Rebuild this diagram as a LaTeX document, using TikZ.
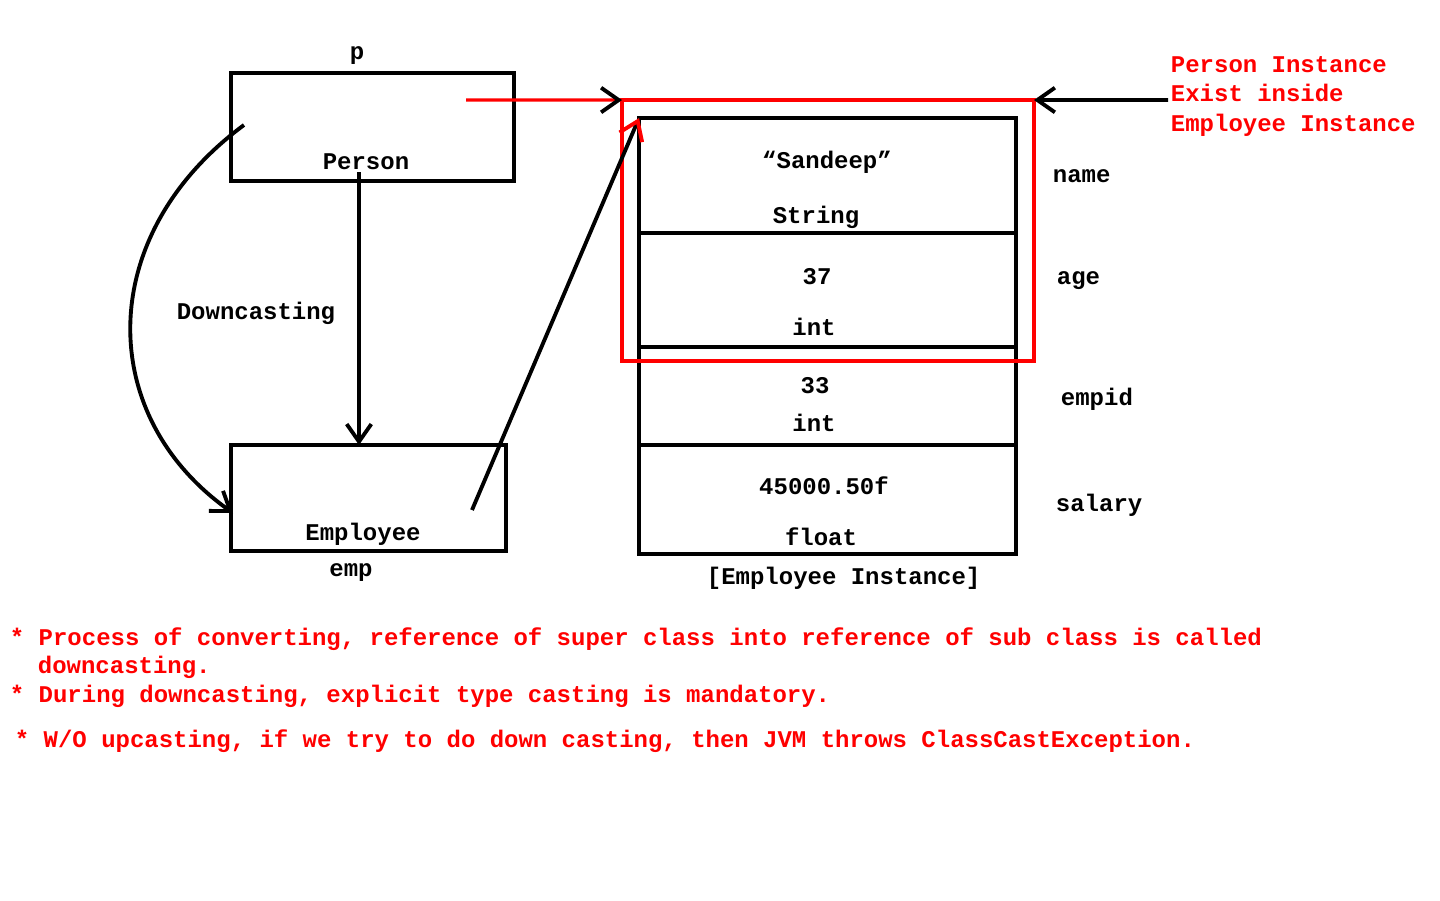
\documentclass[tikz,border=0pt]{standalone}
\usepackage{fontspec}
\setmainfont{Liberation Mono}
\usetikzlibrary{arrows.meta}

\begin{document}
\begin{tikzpicture}[x=0.02cm, y=-0.02cm, line width=2.2pt,
    >={Straight Barb[length=10pt,width=14pt]},
    txt/.style={inner sep=0pt, anchor=base, font=\fontsize{13.65}{16}\selectfont\bfseries},
    note/.style={txt, red, anchor=base west},
    box/.style={draw, inner sep=0pt, outer sep=0pt},
    field/.style={box, minimum width=7.54cm}]
    \useasboundingbox (0,0) rectangle (1440,900);

    \node[box, minimum width=5.66cm, minimum height=2.16cm] (Per) at (372.5,127) {};
    \node[box, minimum width=5.5cm, minimum height=2.12cm] (Emp) at (368.5,498) {};
    \node[txt] (p) at (357,59) {p};
    \node[txt] (PerName) at (366,169) {Person};
    \node[txt] (EmpName) at (363,540) {Employee};
    \node[txt] (emp) at (351,576) {emp};
    \node[txt] (down) at (256,319) {Downcasting};

    \node[field, minimum height=2.3cm] (fName) at (827.5,175.5) {};
    \node[field, minimum height=2.28cm] (fAge) at (827.5,290) {};
    \node[field, minimum height=1.96cm] (fId) at (827.5,396) {};
    \node[field, minimum height=2.18cm] (fSal) at (827.5,499.5) {};
    \node[box, draw=red, line width=1.9pt, minimum width=8.24cm, minimum height=5.22cm] (PInst) at (828,230.5) {};

    \node[txt] (vName) at (827,168) {“Sandeep”};
    \node[txt] (tName) at (816,223) {String};
    \node[txt] (vAge) at (817,284) {37};
    \node[txt] (tAge) at (814,335) {int};
    \node[txt] (vId) at (815,393) {33};
    \node[txt] (tId) at (814,431) {int};
    \node[txt] (vSal) at (824,494) {45000.50f};
    \node[txt] (tSal) at (821,545) {float};
    \node[txt, anchor=base west] (lName) at (1051,182) {name};
    \node[txt, anchor=base west] (lAge) at (1055,284) {age};
    \node[txt, anchor=base west] (lId) at (1059,405) {empid};
    \node[txt, anchor=base west] (lSal) at (1054,511) {salary};
    \node[txt, anchor=base west] (EInst) at (705,584) {[Employee Instance]};

    \node[note] (n1) at (1169,72) {Person Instance};
    \node[note] (n2) at (1169,101) {Exist inside};
    \node[note] (n3) at (1169,131) {Employee Instance};

    \coordinate (pRef) at (466,100);
    \coordinate (pLeft) at (244,125);
    \coordinate (pDown) at (359,172);
    \coordinate (eRef) at (472,510);
    \coordinate (eLeft) at (233,513);
    \coordinate (nTail) at (1168,100);

    \draw[->] (pDown) -- (pDown |- Emp.north);
    \draw[->] (pLeft) .. controls (95,235) and (95,415) .. (eLeft);
    \draw[-{Straight Barb[red,length=10pt,width=14pt]}] (eRef) -- (fName.north west);
    \draw[red, line width=1.9pt, -{Straight Barb[black,line width=2.2pt,length=10pt,width=14pt]}] (pRef) -- (PInst.north west);
    \draw[->] (nTail) -- (PInst.north east);

    \node[note] (b1) at (8,645) {* Process of converting, reference of super class into reference of sub class is called};
    \node[note] (b2) at (36,673) {downcasting.};
    \node[note] (b3) at (8,702) {* During downcasting, explicit type casting is mandatory.};
    \node[note] (b4) at (13,747) {* W/O upcasting, if we try to do down casting, then JVM throws ClassCastException.};
\end{tikzpicture}
\end{document}
